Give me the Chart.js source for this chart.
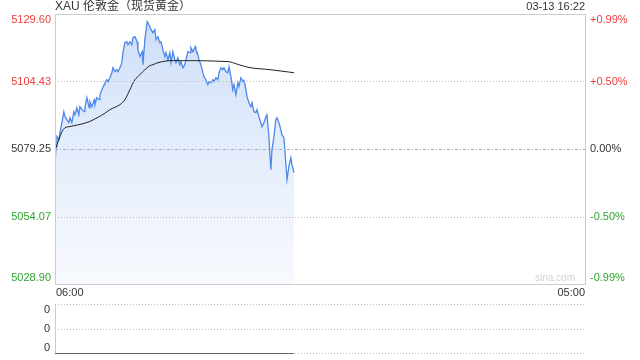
<!DOCTYPE html>
<html><head><meta charset="utf-8">
<script src="https://cdn.jsdelivr.net/npm/chart.js@4/dist/chart.umd.min.js"></script>
<style>
html,body{margin:0;padding:0;background:#fff;width:640px;height:360px;overflow:hidden}
#c1{position:absolute;left:0;top:0}
#c2{position:absolute;left:0;top:296px}
</style></head><body>
<canvas id="c1" width="640" height="300"></canvas>
<canvas id="c2" width="640" height="64"></canvas>
<script>
const titleText = 'XAU 伦敦金（现货黄金）';
const stampText = '03-13 16:22';
const watermark = 'sina.com';
const prevClose = 5079.25;
const priceTicks = [5129.60, 5104.43, 5079.25, 5054.07, 5028.90];
const pctTicks = ['+0.99%', '+0.50%', '0.00%', '-0.50%', '-0.99%'];
const xTickLabels = ['06:00', '05:00'];
const volTickLabels = ['0', '0', '0'];

const times = [
 '06:00','06:03','06:05','06:10','06:13','06:18','06:23','06:26','06:31','06:36',
 '06:39','06:44','06:49','06:52','06:57','07:02','07:05','07:10','07:16','07:18',
 '07:23','07:29','07:31','07:36','07:42','07:44','07:49','07:55','07:57','08:02',
 '08:08','08:10','08:15','08:18','08:23','08:28','08:31','08:36','08:41','08:44',
 '08:49','08:54','08:57','09:02','09:07','09:10','09:15','09:20','09:23','09:28',
 '09:34','09:36','09:41','09:47','09:49','09:54','10:00','10:02','10:07','10:10',
 '10:15','10:20','10:23','10:28','10:33','10:36','10:41','10:46','10:49','10:54',
 '10:59','11:02','11:07','11:12','11:15','11:20','11:25','11:28','11:33','11:38',
 '11:41','11:46','11:52','11:54','11:59','12:05','12:07','12:12','12:15','12:20',
 '12:25','12:28','12:33','12:38','12:41','12:46','12:51','12:54','12:59','13:04',
 '13:07','13:12','13:17','13:20','13:25','13:30','13:33','13:38','13:43','13:46',
 '13:51','13:56','13:59','14:04','14:10','14:12','14:17','14:20','14:25','14:30',
 '14:33','14:38','14:43','14:46','14:51','14:56','14:59','15:04','15:09','15:12',
 '15:17','15:22','15:25','15:30','15:35','15:38','15:43','15:48','15:51','15:56',
 '16:01','16:04','16:09','16:14','16:17','16:22'
];
const prices = [
 5074.14,5080.11,5083.84,5082.72,5085.33,5089.06,5093.16,5091.30,5090.18,5089.06,
 5090.92,5089.06,5093.16,5092.04,5094.65,5092.04,5095.03,5093.91,5093.16,5094.65,
 5098.38,5094.65,5096.89,5095.03,5097.64,5095.77,5098.38,5097.64,5099.50,5101.37,
 5103.23,5103.98,5105.10,5104.35,5105.84,5107.71,5109.57,5108.08,5108.83,5108.08,
 5109.57,5111.44,5115.17,5118.90,5119.27,5118.15,5119.27,5118.15,5120.76,5121.14,
 5119.27,5116.29,5113.68,5115.54,5110.69,5120.02,5126.73,5126.36,5124.87,5123.75,
 5122.63,5123.75,5120.02,5121.14,5118.90,5119.27,5116.29,5113.68,5115.17,5112.56,
 5115.17,5111.44,5115.54,5112.56,5111.44,5113.30,5110.69,5111.81,5109.57,5110.69,
 5112.56,5115.54,5115.17,5117.03,5115.54,5117.41,5116.29,5114.42,5112.56,5110.69,
 5107.71,5106.22,5105.10,5103.23,5104.35,5103.98,5105.10,5104.35,5105.84,5105.10,
 5107.71,5109.57,5108.83,5109.57,5108.08,5107.71,5109.95,5106.22,5101.37,5103.23,
 5099.50,5103.98,5102.49,5105.84,5104.35,5105.10,5101.37,5098.76,5096.52,5095.03,
 5096.52,5093.16,5092.79,5093.91,5091.30,5089.06,5087.57,5089.06,5091.30,5092.04,
 5083.84,5071.53,5078.99,5083.84,5090.18,5090.92,5089.06,5086.45,5084.58,5083.46,
 5074.14,5067.80,5072.65,5076.00,5073.39,5070.41
];
const avgTimes = [
 '06:00','06:10','06:18','06:26','06:36','07:02','07:29','07:55','08:08','08:23',
 '08:49','09:02','09:15','09:28','09:41','09:54','10:07','10:15','10:28','10:54',
 '11:28','12:18','13:33','13:43','13:59','14:28','15:20','16:22'
];
const avgPrices = [
 5078.99,5082.72,5085.70,5087.19,5087.57,5088.31,5089.43,5091.30,5092.42,5093.91,
 5095.77,5097.64,5101.37,5105.10,5106.96,5108.83,5110.32,5110.69,5111.44,5112.18,
 5112.18,5112.18,5111.81,5111.44,5110.69,5109.57,5108.83,5107.71
];
const volTimes = ['06:00', '16:22'];
const volumes = [0, 0];

const FONT = '"Liberation Sans", Arial, "Noto Sans CJK SC", sans-serif';
const RED = '#f03c3c', GREEN = '#2ea52e', DARK = '#333333', FRAME = '#cccccc';
function toMin(t){ const [h,m] = t.split(':').map(Number); return ((h*60+m) - 360 + 1440) % 1440; }
const sessionEnd = 1440 - 60; // 05:00 next day

function colorFor(i, n){ const mid = (n-1)/2; return i < mid ? RED : (i > mid ? GREEN : DARK); }
function hline(ctx, x1, x2, y, dash, color){
  ctx.save(); ctx.beginPath(); ctx.setLineDash(dash); ctx.strokeStyle = color; ctx.lineWidth = 1;
  ctx.moveTo(x1, Math.round(y)+0.5); ctx.lineTo(x2, Math.round(y)+0.5); ctx.stroke(); ctx.restore();
}

const mainPlugin = {
  id: 'mainDeco',
  afterDatasetsDraw(chart){
    const {ctx, chartArea: a, scales: {x, y}} = chart;
    // grid lines (inner ticks)
    for (let i = 1; i < priceTicks.length - 1; i++) {
      const py = y.getPixelForValue(priceTicks[i]);
      const dash = priceTicks[i] === prevClose ? [3,2,1,2] : [1,2];
      hline(ctx, a.left, a.right, py, dash, priceTicks[i] === prevClose ? '#aaaaaa' : '#bbbbbb');
    }
  },
  afterDraw(chart){
    const {ctx, chartArea: a, scales: {x, y}} = chart;
    ctx.save();
    // frame
    ctx.strokeStyle = FRAME; ctx.lineWidth = 1; ctx.setLineDash([]);
    ctx.strokeRect(Math.round(a.left)+0.5, Math.round(a.top)+0.5, Math.round(a.right-a.left), Math.round(a.bottom-a.top));
    // title and stamp
    ctx.fillStyle = DARK; ctx.textBaseline = 'middle';
    ctx.font = '12px ' + FONT; ctx.textAlign = 'left';
    ctx.fillText(titleText, a.left, 7);
    ctx.font = '11px ' + FONT; ctx.textAlign = 'right';
    ctx.fillText(stampText, a.right, 7);
    // y labels
    const n = priceTicks.length;
    priceTicks.forEach((v, i) => {
      let py = y.getPixelForValue(v);
      if (i === 0) py += 6; else if (i === n-1) py -= 6;
      ctx.fillStyle = colorFor(i, n);
      ctx.font = '11px ' + FONT;
      ctx.textAlign = 'right'; ctx.fillText(v.toFixed(2), a.left - 4, py);
      ctx.textAlign = 'left'; ctx.fillText(pctTicks[i], a.right + 5, py);
    });
    // x labels
    ctx.fillStyle = DARK; ctx.font = '11px ' + FONT;
    ctx.textAlign = 'left'; ctx.fillText(xTickLabels[0], x.getPixelForValue(toMin(xTickLabels[0])) + 1, a.bottom + 9);
    ctx.textAlign = 'right'; ctx.fillText(xTickLabels[1], x.getPixelForValue(sessionEnd), a.bottom + 9);
    // watermark
    ctx.fillStyle = '#d0d0d0'; ctx.font = '10px ' + FONT; ctx.textAlign = 'right';
    ctx.fillText(watermark, a.right - 10, a.bottom - 6);
    ctx.restore();
  }
};

new Chart(document.getElementById('c1'), {
  type: 'line',
  data: {
    datasets: [
      {
        data: times.map((t, i) => ({x: toMin(t), y: prices[i]})),
        borderColor: '#4d88ea', borderWidth: 1.3, pointRadius: 0, tension: 0,
        fill: 'start',
        backgroundColor: (c) => {
          const a = c.chart.chartArea; if (!a) return 'rgba(0,0,0,0)';
          const g = c.chart.ctx.createLinearGradient(0, a.top, 0, a.bottom);
          g.addColorStop(0, 'rgba(196,216,247,0.85)');
          g.addColorStop(1, 'rgba(244,247,253,0.7)');
          return g;
        },
        order: 2
      },
      {
        data: avgTimes.map((t, i) => ({x: toMin(t), y: avgPrices[i]})),
        borderColor: '#222222', borderWidth: 1, pointRadius: 0, tension: 0.3, fill: false,
        order: 1
      }
    ]
  },
  options: {
    responsive: false, animation: false, events: [],
    layout: {padding: {left: 55, right: 55, top: 14, bottom: 16}},
    scales: {
      x: {type: 'linear', min: 0, max: sessionEnd, display: false},
      y: {min: priceTicks[priceTicks.length-1], max: priceTicks[0], display: false}
    },
    plugins: {legend: {display: false}, tooltip: {enabled: false}}
  },
  plugins: [mainPlugin]
});

const volPlugin = {
  id: 'volDeco',
  beforeDatasetsDraw(chart){
    const {ctx, chartArea: a} = chart;
    hline(ctx, a.left, a.right, a.top, [1,2], '#bbbbbb');
    hline(ctx, a.left, a.right, (a.top + a.bottom)/2, [1,2], '#bbbbbb');
    hline(ctx, a.left, a.right, a.bottom - 1, [1,2], '#bbbbbb');
    ctx.save(); ctx.strokeStyle = FRAME; ctx.lineWidth = 1;
    ctx.beginPath(); ctx.moveTo(Math.round(a.left)+0.5, a.top); ctx.lineTo(Math.round(a.left)+0.5, a.bottom); ctx.stroke();
    ctx.restore();
  },
  afterDraw(chart){
    const {ctx, chartArea: a} = chart;
    ctx.save(); ctx.fillStyle = DARK; ctx.font = '11px ' + FONT; ctx.textAlign = 'right'; ctx.textBaseline = 'middle';
    const ys = [a.top + 6, (a.top + a.bottom)/2, a.bottom - 6];
    volTickLabels.forEach((s, i) => ctx.fillText(s, a.left - 5, ys[i]));
    ctx.restore();
  }
};

new Chart(document.getElementById('c2'), {
  type: 'line',
  data: {
    datasets: [{
      data: volTimes.map((t, i) => ({x: toMin(t), y: volumes[i]})),
      borderColor: '#666666', borderWidth: 1, pointRadius: 0, fill: false, clip: 3
    }]
  },
  options: {
    responsive: false, animation: false, events: [],
    layout: {padding: {left: 55, right: 55, top: 8, bottom: 6.5}},
    scales: {
      x: {type: 'linear', min: 0, max: sessionEnd, display: false},
      y: {min: 0, max: 1, display: false}
    },
    plugins: {legend: {display: false}, tooltip: {enabled: false}}
  },
  plugins: [volPlugin]
});
</script>
</body></html>
